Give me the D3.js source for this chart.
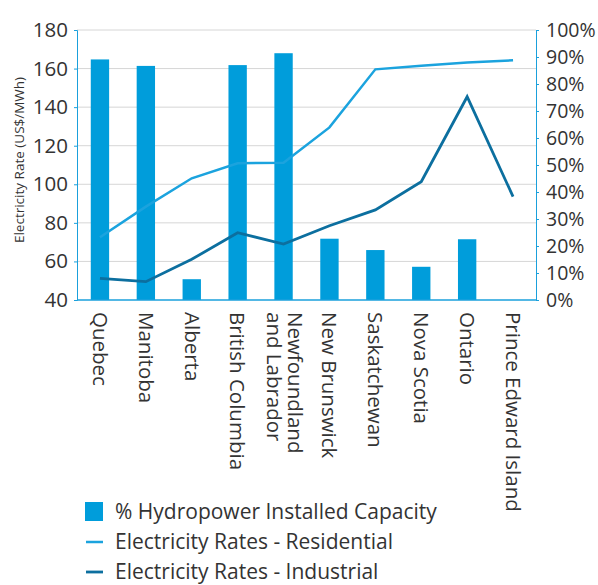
<!DOCTYPE html>
<html>
<head>
<meta charset="utf-8">
<script src="https://cdn.jsdelivr.net/npm/d3@7"></script>
<style>
  body { margin: 0; background: #fff; }
  text { font-family: "Open Sans", "Noto Sans", sans-serif; fill: #333; }
</style>
</head>
<body>
<div id="chart"></div>
<script>
// provinces, left to right
const provinces = ["Quebec", "Manitoba", "Alberta", "British Columbia", "Newfoundland|and Labrador",
    "New Brunswick", "Saskatchewan", "Nova Scotia", "Ontario", "Prince Edward Island"];
// % hydropower installed capacity
const hydroShare = [89.1, 86.7, 7.7, 87.0, 91.4, 22.7, 18.5, 12.3, 22.5, 0];
// electricity rates, US$/MWh
const residential = [72.5, 88.4, 103.1, 110.9, 111.2, 129.5, 159.6, 161.5, 163.2, 164.3];
const industrial  = [51.2, 49.5, 61.1, 74.9, 69.0, 78.5, 86.7, 101.3, 145.4, 93.6];
const rateTicks = [40, 60, 80, 100, 120, 140, 160, 180];
const pctTicks = [0, 10, 20, 30, 40, 50, 60, 70, 80, 90, 100];

const W = 598, H = 585;
const margin = {top: 30, right: 62, bottom: 285, left: 77};
const innerW = W - margin.left - margin.right;
const innerH = H - margin.top - margin.bottom;

const blue = "#009ddb", resColor = "#1ba3de", indColor = "#0c6f9f", axisColor = "#1aa0dc";

const svg = d3.select("#chart").append("svg").attr("width", W).attr("height", H);
const g = svg.append("g").attr("transform", `translate(${margin.left},${margin.top})`);

const x = d3.scaleBand().domain(provinces).range([0, innerW]).paddingInner(0.6).paddingOuter(0.3);
const yRate = d3.scaleLinear().domain([40, 180]).range([innerH, 0]);
const yPct = d3.scaleLinear().domain([0, 100]).range([innerH, 0]);
const cx = d => x(d) + x.bandwidth() / 2;

// gridlines
g.append("g").selectAll("line").data(rateTicks.slice(1)).join("line")
    .attr("x1", 0).attr("x2", innerW)
    .attr("y1", d => yRate(d)).attr("y2", d => yRate(d))
    .attr("stroke", "#d6d6d6").attr("stroke-width", 1);

// bars
g.append("g").selectAll("rect").data(provinces).join("rect")
    .attr("x", d => x(d))
    .attr("width", x.bandwidth())
    .attr("y", (d, i) => yPct(hydroShare[i]))
    .attr("height", (d, i) => innerH - yPct(hydroShare[i]))
    .attr("fill", blue);

// lines
const line = arr => d3.line().x((d, i) => cx(provinces[i])).y(d => yRate(d))(arr);
g.append("path").attr("d", line(residential)).attr("fill", "none")
    .attr("stroke", resColor).attr("stroke-width", 2.5);
g.append("path").attr("d", line(industrial)).attr("fill", "none")
    .attr("stroke", indColor).attr("stroke-width", 2.8);

// left axis
const yAxisL = g.append("g").call(d3.axisLeft(yRate).tickValues(rateTicks).tickSize(3).tickPadding(6));
yAxisL.select(".domain").attr("stroke", axisColor);
yAxisL.selectAll(".tick line").attr("stroke", axisColor);
yAxisL.selectAll("text").attr("font-size", "20.5px").attr("fill", "#333").attr("font-family", null);

// right axis
const yAxisR = g.append("g").attr("transform", `translate(${innerW},0)`)
    .call(d3.axisRight(yPct).tickValues(pctTicks).tickFormat(d => d + "%").tickSize(3).tickPadding(7));
yAxisR.select(".domain").attr("stroke", axisColor);
yAxisR.selectAll(".tick line").attr("stroke", axisColor);
yAxisR.selectAll("text").attr("font-size", "19.5px").attr("fill", "#333").attr("font-family", null);

// bottom baseline
g.append("line").attr("x1", 0).attr("x2", innerW).attr("y1", innerH).attr("y2", innerH)
    .attr("stroke", axisColor).attr("stroke-width", 1.5);

// category labels, rotated
const catG = g.append("g").selectAll("text").data(provinces).join("text")
    .attr("transform", d => `translate(${cx(d)},${innerH + 12}) rotate(90)`)
    .attr("font-size", "20.5px")
    .attr("dy", "0.35em");
catG.each(function(d) {
    const parts = d.split("|");
    const t = d3.select(this);
    parts.forEach((p, i) => {
        t.append("tspan").attr("x", 0).attr("dy", i === 0 ? (parts.length > 1 ? "-0.2em" : "0.35em") : "1.0em").text(p);
    });
});

// y axis title
svg.append("text")
    .attr("transform", `translate(24,${margin.top + 130}) rotate(-90)`)
    .attr("text-anchor", "middle")
    .attr("font-size", "13.5px")
    .text("Electricity Rate (US$/MWh)");

// legend
const legend = svg.append("g").attr("transform", "translate(85,0)");
legend.append("rect").attr("x", 0).attr("y", 502).attr("width", 18).attr("height", 19).attr("fill", blue);
legend.append("line").attr("x1", 1).attr("x2", 18).attr("y1", 542).attr("y2", 542)
    .attr("stroke", resColor).attr("stroke-width", 2.5);
legend.append("line").attr("x1", 1).attr("x2", 18).attr("y1", 572).attr("y2", 572)
    .attr("stroke", indColor).attr("stroke-width", 2.8);
const legendLabels = ["% Hydropower Installed Capacity", "Electricity Rates - Residential", "Electricity Rates - Industrial"];
legend.selectAll("text.lg").data(legendLabels).join("text")
    .attr("class", "lg")
    .attr("x", 30).attr("y", (d, i) => 519 + i * 30)
    .attr("font-size", "21px")
    .text(d => d);
</script>
</body>
</html>
